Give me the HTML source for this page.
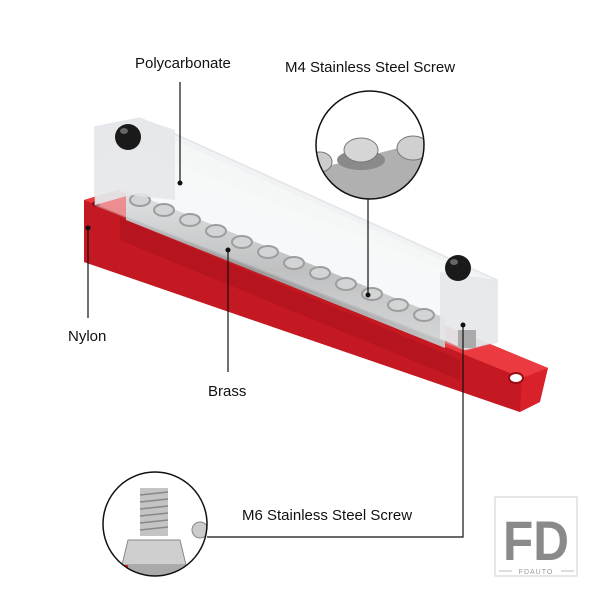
<!DOCTYPE html>
<html><head><meta charset="utf-8"><style>
html,body{margin:0;padding:0;background:#fff;}
svg{display:block}
text{font-family:"Liberation Sans",sans-serif;fill:#111;}
</style></head><body>
<svg width="600" height="600" viewBox="0 0 600 600" xmlns="http://www.w3.org/2000/svg">
<defs>
<clipPath id="c1"><circle cx="370" cy="145" r="54"/></clipPath>
<clipPath id="c2"><circle cx="155" cy="524" r="52"/></clipPath>
<linearGradient id="mg" x1="0" y1="0" x2="0" y2="1"><stop offset="0" stop-color="#d8d8d8"/><stop offset="0.5" stop-color="#9a9a9a"/><stop offset="1" stop-color="#c4c4c4"/></linearGradient>
</defs>
<!-- red base -->
<polygon points="84,200 118,190 548,368 540,402 520,412 84,262" fill="#d8212b"/>
<polygon points="84,200 118,190 548,368 522,378" fill="#ec3b40"/>
<polygon points="84,200 522,378 520,412 84,262" fill="#c41822"/>
<polygon points="120,218 460,360 460,380 120,240" fill="#a8101a" opacity="0.5"/>
<ellipse cx="516" cy="378" rx="7" ry="5" fill="#fff" stroke="#9a0e16" stroke-width="2"/>
<ellipse cx="96" cy="204" rx="4" ry="3" fill="#8a0c14"/>
<!-- metal bar -->
<polygon points="126,190 445,318 445,348 126,220" fill="url(#mg)"/>
<g fill="#bdbdbd" stroke="#5a5a5a" stroke-width="2">
<ellipse cx="140" cy="200" rx="10" ry="6"/><ellipse cx="164" cy="210" rx="10" ry="6"/><ellipse cx="190" cy="220" rx="10" ry="6"/><ellipse cx="216" cy="231" rx="10" ry="6"/><ellipse cx="242" cy="242" rx="10" ry="6"/><ellipse cx="268" cy="252" rx="10" ry="6"/><ellipse cx="294" cy="263" rx="10" ry="6"/><ellipse cx="320" cy="273" rx="10" ry="6"/><ellipse cx="346" cy="284" rx="10" ry="6"/><ellipse cx="372" cy="294" rx="10" ry="6"/><ellipse cx="398" cy="305" rx="10" ry="6"/><ellipse cx="424" cy="315" rx="10" ry="6"/>
</g>
<!-- clear cover -->
<polygon points="95,127 140,118 497,280 497,290 140,150 95,160" fill="#f2f3f5" opacity="0.9"/>
<polygon points="95,127 140,118 497,280 497,342 465,350 95,205" fill="#eef0f2" opacity="0.45" stroke="#c8ccd0" stroke-width="1.5"/>
<polygon points="140,125 497,285 497,300 140,165" fill="#f6f7f8" opacity="0.8"/>
<polygon points="95,127 140,118 175,130 175,200 130,195 95,205" fill="#e4e7ea" opacity="0.9"/>
<polygon points="440,272 497,280 497,342 465,350 440,338" fill="#e4e7ea" opacity="0.9"/>
<rect x="458" y="330" width="18" height="18" fill="#aaa"/>
<!-- caps -->
<circle cx="128" cy="137" r="13" fill="#1a1a1a"/><ellipse cx="124" cy="131" rx="4" ry="3" fill="#666"/>
<circle cx="458" cy="268" r="13" fill="#1a1a1a"/><ellipse cx="454" cy="262" rx="4" ry="3" fill="#666"/>
<!-- top magnifier -->
<circle cx="370" cy="145" r="54" fill="#fff"/>
<g clip-path="url(#c1)">
<polygon points="320,168 430,140 430,210 320,210" fill="#b0b0b0"/>
<ellipse cx="361" cy="160" rx="24" ry="10" fill="#8a8a8a"/>
<ellipse cx="361" cy="150" rx="17" ry="12" fill="#d6d6d6" stroke="#777"/>
<ellipse cx="413" cy="148" rx="16" ry="12" fill="#d0d0d0" stroke="#777"/>
<ellipse cx="320" cy="162" rx="12" ry="10" fill="#ccc" stroke="#777"/>
</g>
<circle cx="370" cy="145" r="54" fill="none" stroke="#111" stroke-width="1.5"/>
<!-- bottom magnifier -->
<circle cx="155" cy="524" r="52" fill="#fff"/>
<g clip-path="url(#c2)">
<rect x="140" y="488" width="28" height="48" fill="#c4c4c4"/>
<g stroke="#888" stroke-width="1.5"><line x1="140" y1="495" x2="168" y2="492"/><line x1="140" y1="502" x2="168" y2="499"/><line x1="140" y1="509" x2="168" y2="506"/><line x1="140" y1="516" x2="168" y2="513"/><line x1="140" y1="523" x2="168" y2="520"/><line x1="140" y1="530" x2="168" y2="527"/></g>
<polygon points="128,540 180,540 186,565 122,565" fill="#cfcfcf" stroke="#888"/>
<rect x="120" y="565" width="70" height="12" fill="#aaa"/>
<rect x="103" y="565" width="25" height="20" fill="#d8212b"/>
<circle cx="200" cy="530" r="8" fill="#ccc" stroke="#888"/>
</g>
<circle cx="155" cy="524" r="52" fill="none" stroke="#111" stroke-width="1.5"/>
<!-- connectors -->
<g stroke="#111" stroke-width="1.2" fill="none">
<line x1="180" y1="82" x2="180" y2="183"/>
<line x1="368" y1="199" x2="368" y2="295"/>
<line x1="88" y1="228" x2="88" y2="318"/>
<line x1="228" y1="250" x2="228" y2="372"/>
<polyline points="207,537 463,537 463,325"/>
</g>
<g fill="#111"><circle cx="180" cy="183" r="2.5"/><circle cx="368" cy="295" r="2.5"/><circle cx="88" cy="228" r="2.5"/><circle cx="228" cy="250" r="2.5"/><circle cx="463" cy="325" r="2.5"/></g>
<!-- labels -->
<text x="135" y="68" font-size="15">Polycarbonate</text>
<text x="285" y="72" font-size="15">M4 Stainless Steel Screw</text>
<text x="68" y="341" font-size="15">Nylon</text>
<text x="208" y="396" font-size="15">Brass</text>
<text x="242" y="520" font-size="15">M6 Stainless Steel Screw</text>
<!-- logo -->
<rect x="495" y="497" width="82" height="79" fill="#fff" stroke="#ccc"/>
<text x="536" y="560" font-size="56" font-weight="bold" text-anchor="middle" style="fill:#8a8a8a" textLength="66" lengthAdjust="spacingAndGlyphs">FD</text>
<line x1="499" y1="571" x2="512" y2="571" stroke="#bbb"/><line x1="561" y1="571" x2="574" y2="571" stroke="#bbb"/>
<text x="536" y="574" font-size="7" text-anchor="middle" style="fill:#999" letter-spacing="1">FDAUTO</text>
</svg>
</body></html>
